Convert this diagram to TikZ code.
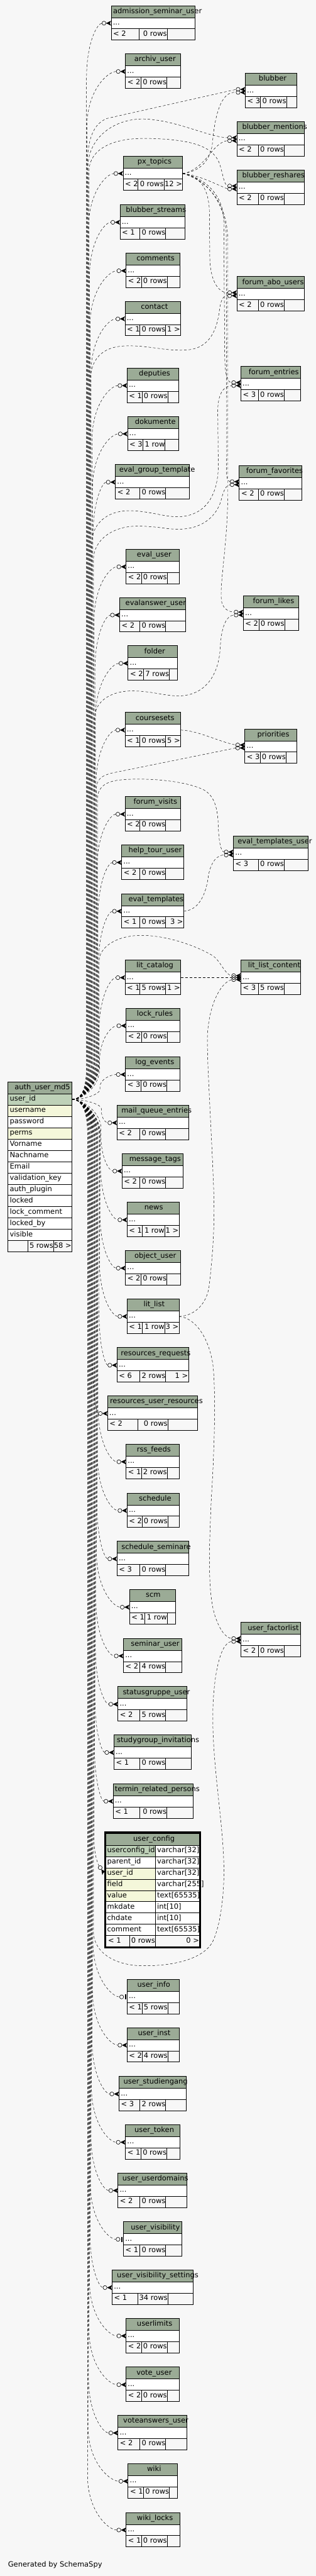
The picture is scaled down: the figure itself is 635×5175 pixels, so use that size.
\documentclass[tikz,border=0pt]{standalone}
\usepackage{fontspec}
\setmainfont{DejaVu Sans}
\usetikzlibrary{calc}
\definecolor{bgc}{HTML}{F7F7F7}
\definecolor{hdr}{HTML}{9BAB96}
\definecolor{pkc}{HTML}{BED1B8}
\definecolor{idx}{HTML}{F4F7DA}
\tikzset{
  txt/.style={inner sep=0pt,outer sep=0pt,text=black},
  rel/.style={draw=black,line width=0.6pt,dash pattern=on 5pt off 4pt},
  tl/.style={draw=black,line width=1pt},
  mkc/.style={draw=black,line width=0.8pt},
}
% table: #1 id, #2 xl, #3 xr, #4 ytop, #5 label x, #6 c1, #7 c2, #8 parents, #9 rows
\newcommand\tb[9]{%
  \fill[hdr] (#2,#4) rectangle (#3,{#4+24});
  \fill[white] (#2,{#4+24}) rectangle (#3,{#4+46.6});
  \fill[bgc] (#2,{#4+46.6}) rectangle (#3,{#4+69.2});
  \node[tl,inner sep=0pt,outer sep=0pt,anchor=north west,minimum width={(#3-#2)*1pt},minimum height=69.2pt] (#1) at (#2,#4) {};
  \draw[tl] (#2,{#4+24}) -- (#3,{#4+24}) (#2,{#4+46.6}) -- (#3,{#4+46.6})
     (#6,{#4+46.6}) -- (#6,{#4+69.2}) (#7,{#4+46.6}) -- (#7,{#4+69.2});
  \node[txt,anchor=base west] (#1-h) at (#5,{#4+15.5}) {\detokenize{#1}};
  \node[txt,anchor=base west] (#1-r) at ({#2+3.5},{#4+38.5}) {...};
  \node[txt,anchor=base west] (#1-f) at ({#2+4},{#4+61}) {< #8};
  \node[txt,anchor=base east] (#1-n) at ({#7-0.5},{#4+61}) {#9};
  \coordinate (#1-w) at (#2,{#4+35.3});
  \coordinate (#1-e) at (#3,{#4+35.3});
}
\newcommand\cnt[2]{\node[txt,anchor=base east] (#1-c) at ($(#1.south east)+(-1,-8.2)$) {#2 >};}
\newcommand\mk[2]{\begin{scope}[shift={($(#1-w)+(0,#2)$)}]
  \draw[mkc] (-14.5,0) circle[radius=4];
  \fill (-10.5,0) -- (0,-5) -- (-2.5,0) -- (0,5) -- cycle;
\end{scope}}
\newcommand\mko[1]{\begin{scope}[shift={(#1-w)}]
  \draw[mkc] (-11,0) circle[radius=4];
  \fill (-4.5,-5) rectangle (-2,5);
\end{scope}}
% up edge from auth: #1 end offset, #2 table, #3 bundle x
\newcommand\ue[3][-18.5]{%
 \draw[rel] let \p1=($(#2-w)+(#1,0)$), \p2=(au),
   \n1={min(110,0.5*(\y1-(\y2)))}, \n2={min(70,0.4*(\y1-(\y2)))} in
  (au) .. controls ($(au)+(25,0)$) and (#3pt,\y2+0.5*\n2) .. (#3pt,\y2+\n2)
  -- (#3pt,\y1-\n1) .. controls (#3pt,\y1-0.35*\n1) and ({\x1-0.3*(\x1-#3pt)},\y1) .. (\x1,\y1);}
\newcommand\de[3][-18.5]{%
 \draw[rel] let \p1=($(#2-w)+(#1,0)$), \p2=(au),
   \n1={min(110,0.5*(\y2-(\y1)))}, \n2={min(70,0.4*(\y2-(\y1)))} in
  (au) .. controls ($(au)+(25,0)$) and (#3pt,\y2-0.5*\n2) .. (#3pt,\y2-\n2)
  -- (#3pt,\y1+\n1) .. controls (#3pt,\y1+0.35*\n1) and ({\x1-0.3*(\x1-#3pt)},\y1) .. (\x1,\y1);}
\begin{document}
\begin{tikzpicture}[x=1pt,y=-1pt,font=\fontsize{14.5}{17}\selectfont]
\useasboundingbox (0,0) rectangle (635,5175);
\fill[bgc] (0,0) rectangle (635,5175);

% ---------- auth_user_md5 ----------
\fill[hdr] (16.2,2173.3) rectangle (144.6,2197.3);
\foreach \nm/\fc [count=\i from 0] in {user\_id/pkc,username/idx,password/white,perms/idx,Vorname/white,Nachname/white,Email/white,validation\_key/white,auth\_plugin/white,locked/white,lock\_comment/white,locked\_by/white,visible/white}{
  \fill[\fc] (16.2,{2197.3+22.7*\i}) rectangle (144.6,{2197.3+22.7*(\i+1)});
  \draw[tl] (16.2,{2197.3+22.7*\i}) -- (144.6,{2197.3+22.7*\i});
  \node[txt,anchor=base west] (au-r\i) at (19.7,{2197.3+22.7*\i+14.5}) {\nm};
}
\fill[bgc] (16.2,2492.4) rectangle (144.6,2515.3);
\draw[tl] (16.2,2492.4) -- (144.6,2492.4) (55.5,2492.4) -- (55.5,2515.3) (107.7,2492.4) -- (107.7,2515.3);
\node[tl,inner sep=0pt,outer sep=0pt,anchor=north west,minimum width=128.4pt,minimum height=342pt] (auth_user_md5) at (16.2,2173.3) {};
\node[txt,anchor=base west] (auth-h) at (29.6,2188.8) {auth\_user\_md5};
\node[txt,anchor=base east] (auth-n) at (107.2,2507.3) {5 rows};
\node[txt,anchor=base east] (auth-c) at (143.6,2507.3) {58 >};
\coordinate (au) at (144.6,2208.65);

% ---------- user_config ----------
\fill[hdr] (212.6,3683.3) rectangle (401.4,3707.3);
\foreach \nm/\ty/\fc [count=\i from 0] in {userconfig\_id/varchar[32]/pkc,parent\_id/varchar[32]/white,user\_id/varchar[32]/idx,field/varchar[255]/idx,value/text[65535]/idx,mkdate/int[10]/white,chdate/int[10]/white,comment/text[65535]/white}{
  \fill[white] (212.6,{3707.3+22.6*\i}) rectangle (401.4,{3707.3+22.6*(\i+1)});
  \fill[\fc] (212.6,{3707.3+22.6*\i}) rectangle (312.3,{3707.3+22.6*(\i+1)});
  \draw[tl] (212.6,{3707.3+22.6*\i}) -- (401.4,{3707.3+22.6*\i});
  \node[txt,anchor=base west] (uc-n\i) at (215.6,{3707.3+22.6*\i+14.5}) {\nm};
  \node[txt,anchor=base west] (uc-t\i) at (316,{3707.3+22.6*\i+14.5}) {\ty};
}
\fill[bgc] (212.6,3888.1) rectangle (401.4,3911);
\draw[tl] (212.6,3888.1) -- (401.4,3888.1) (312.3,3707.3) -- (312.3,3911) (260.4,3888.1) -- (260.4,3911);
\node[tl,inner sep=0pt,outer sep=0pt,anchor=north west,minimum width=188.8pt,minimum height=227.7pt] (user_config) at (212.6,3683.3) {};
\draw[line width=3pt] (211.3,3680.8) rectangle (402.7,3912.3);
\node[txt,anchor=base west] (uc-h) at (268.1,3698.8) {user\_config};
\node[txt,anchor=base west] (uc-f) at (217.5,3902.8) {< 1};
\node[txt,anchor=base east] (uc-r) at (311.8,3902.8) {0 rows};
\node[txt,anchor=base east] (uc-c) at (400.4,3902.8) {0 >};
\coordinate (user_config-w) at (209.8,3763.8);

% ---------- left column ----------
\tb{admission_seminar_user}{223.6}{392}{11.3}{227.6}{280.3}{336.2}{2}{0 rows}
\tb{archiv_user}{252.3}{363.3}{108.3}{270.2}{283.5}{335.4}{2}{0 rows}
\tb{px_topics}{247.5}{367.4}{313.3}{276.6}{277.4}{329.7}{2}{0 rows}\cnt{px_topics}{12}
\tb{blubber_streams}{241.4}{372.2}{411.3}{253.1}{281.5}{333.3}{1}{0 rows}
\tb{comments}{253.5}{361.3}{508.7}{274.6}{284.7}{336.2}{2}{0 rows}
\tb{contact}{251.5}{363.3}{605.3}{283.5}{281.5}{333.3}{1}{0 rows}\cnt{contact}{1}
\tb{deputies}{255.6}{359.3}{739.3}{279.5}{285.5}{337.4}{1}{0 rows}
\tb{dokumente}{256.4}{359.3}{836.3}{271.4}{287.6}{332.1}{3}{1 row}
\tb{eval_group_template}{232.1}{381.1}{933.3}{239.8}{281.5}{333.3}{2}{0 rows}
\tb{eval_user}{253.5}{360.1}{1103.3}{275.4}{284.7}{336.2}{2}{0 rows}
\tb{evalanswer_user}{240.6}{373.4}{1200.3}{252.3}{281.5}{333.3}{2}{0 rows}
\tb{folder}{257.6}{357.2}{1297.3}{290}{288.4}{340.6}{2}{7 rows}
\tb{coursesets}{251.5}{363.3}{1431.3}{272.6}{281.5}{333.3}{1}{0 rows}\cnt{coursesets}{5}
\tb{forum_visits}{251.5}{363.3}{1600.3}{268.5}{281.5}{333.3}{2}{0 rows}
\tb{help_tour_user}{244.6}{369.4}{1697.3}{258.4}{281.5}{333.3}{2}{0 rows}
\tb{eval_templates}{244.6}{369.4}{1795.3}{258.4}{281.5}{333.3}{1}{0 rows}\cnt{eval_templates}{3}
\tb{lit_catalog}{251.5}{363.3}{1928.7}{274.2}{281.5}{333.3}{1}{5 rows}\cnt{lit_catalog}{1}
\tb{lock_rules}{253.5}{361.3}{2025.3}{275.4}{284.7}{336.2}{2}{0 rows}
\tb{log_events}{252.3}{361.3}{2123.3}{272.2}{283.5}{335.4}{3}{0 rows}
\tb{mail_queue_entries}{235.3}{379.1}{2220.3}{244.2}{281.5}{333.3}{2}{0 rows}
\tb{message_tags}{245.4}{368.2}{2317.3}{260}{281.5}{333.3}{2}{0 rows}
\tb{news}{255.6}{360.1}{2415.3}{290.4}{285.5}{331.3}{1}{1 row}\cnt{news}{1}
\tb{object_user}{252.3}{363.3}{2512.3}{270.6}{283.5}{335.4}{2}{0 rows}
\tb{lit_list}{255.6}{360.1}{2609.3}{288.8}{285.5}{331.3}{1}{1 row}\cnt{lit_list}{3}
\tb{resources_requests}{235.3}{379.1}{2707.3}{243}{281.5}{333.3}{6}{2 rows}\cnt{resources_requests}{1}
\tb{resources_user_resources}{216.3}{397.3}{2804.3}{221.1}{277.4}{337.4}{2}{0 rows}
\tb{rss_feeds}{253.5}{360.1}{2901.3}{275.4}{284.7}{336.2}{1}{2 rows}
\tb{schedule}{255.6}{360.1}{2999.3}{279.5}{285.5}{337.4}{2}{0 rows}
\tb{schedule_seminare}{235.3}{379.1}{3096.3}{244.2}{281.5}{333.3}{3}{0 rows}
\tb{scm}{260.4}{353.2}{3193.3}{293.2}{291.6}{336.2}{1}{1 row}
\tb{seminar_user}{248.3}{365.3}{3291.3}{263.3}{281.5}{333.3}{2}{4 rows}
\tb{statusgruppe_user}{237.3}{376.3}{3388.3}{247}{281.5}{333.3}{2}{5 rows}
\tb{studygroup_invitations}{229.2}{384.4}{3485.3}{235.3}{281.5}{333.3}{1}{0 rows}
\tb{termin_related_persons}{227.6}{388.4}{3583.3}{230.9}{281.5}{335.4}{1}{0 rows}
\tb{user_info}{255.6}{360.1}{3976.3}{276.2}{285.5}{337.4}{1}{5 rows}
\tb{user_inst}{255.6}{360.1}{4073.3}{277.4}{285.5}{337.4}{2}{4 rows}
\tb{user_studiengang}{239.4}{375}{4171.3}{248.3}{281.5}{333.3}{3}{2 rows}
\tb{user_token}{252.3}{361.3}{4268.3}{270.6}{283.5}{335.4}{1}{0 rows}
\tb{user_userdomains}{237.3}{376.3}{4365.3}{246.3}{281.5}{333.3}{2}{0 rows}
\tb{user_visibility}{248.3}{365.3}{4463.3}{263.3}{281.5}{333.3}{1}{0 rows}
\tb{user_visibility_settings}{225.6}{388.4}{4560.3}{235.3}{277.4}{337.4}{1}{34 rows}
\tb{userlimits}{253.5}{360.1}{4657.3}{275.4}{284.7}{336.2}{2}{0 rows}
\tb{vote_user}{253.5}{360.1}{4755.3}{274.6}{284.7}{336.2}{2}{0 rows}
\tb{voteanswers_user}{237.3}{376.3}{4852.3}{247.9}{281.5}{333.3}{2}{0 rows}
\tb{wiki}{257.6}{357.2}{4949.3}{295.7}{288.4}{340.6}{1}{0 rows}
\tb{wiki_locks}{253.5}{361.3}{5047.3}{275.4}{284.7}{336.2}{1}{0 rows}

% ---------- right column ----------
\tb{blubber}{493.3}{596.2}{147.3}{520.5}{524.1}{576}{3}{0 rows}
\tb{blubber_mentions}{476.3}{612.4}{244.3}{487.2}{519.6}{571.5}{2}{0 rows}
\tb{blubber_reshares}{476.3}{612.4}{341.3}{487.2}{519.6}{571.5}{2}{0 rows}
\tb{forum_abo_users}{476.3}{612.4}{555.7}{487.2}{519.6}{571.5}{2}{0 rows}
\tb{forum_entries}{484.4}{604.3}{736.3}{500.2}{519.6}{571.5}{3}{0 rows}
\tb{forum_favorites}{481.2}{607.5}{935.3}{495}{519.6}{571.5}{2}{0 rows}
\tb{forum_likes}{489.3}{600.2}{1197.3}{508.7}{520.9}{572.3}{2}{0 rows}
\tb{priorities}{492.5}{596.2}{1464.3}{517.6}{523.7}{575.1}{3}{0 rows}
\tb{eval_templates_user}{469.4}{619.3}{1679.3}{477.9}{519.6}{571.5}{3}{0 rows}
\tb{lit_list_content}{484.4}{604.3}{1928.7}{499}{519.6}{571.5}{3}{5 rows}
\tb{user_factorlist}{484.4}{604.3}{3259.3}{498.2}{519.6}{571.5}{2}{0 rows}

% ---------- edges from auth_user_md5 to the left column ----------
\ue{admission_seminar_user}{174}
\ue{archiv_user}{175}
\ue{px_topics}{178}
\ue{blubber_streams}{180}
\ue{comments}{181}
\ue{contact}{183}
\ue{deputies}{185}
\ue{dokumente}{186}
\ue{eval_group_template}{187}
\ue{eval_user}{189}
\ue{evalanswer_user}{191}
\ue{folder}{192}
\ue{coursesets}{193}
\ue{forum_visits}{195}
\ue{help_tour_user}{197}
\ue{eval_templates}{198}
\ue{lit_catalog}{199}
\ue{lock_rules}{200}
\ue{log_events}{201}
\de{wiki_locks}{176}
\de{wiki}{177}
\de{voteanswers_user}{178}
\de{vote_user}{179}
\de{userlimits}{180}
\de{user_visibility_settings}{181}
\de[-15]{user_visibility}{182}
\de{user_userdomains}{183}
\de{user_token}{184}
\de{user_studiengang}{185}
\de{user_inst}{186}
\de[-15]{user_info}{187}
\de{termin_related_persons}{190}
\de{studygroup_invitations}{191}
\de{statusgruppe_user}{192}
\de{seminar_user}{193}
\de{scm}{194}
\de{schedule_seminare}{195}
\de{schedule}{196}
\de{rss_feeds}{197}
\de{resources_user_resources}{186}
\de{resources_requests}{199}
\de{lit_list}{200}
\de{object_user}{201}
\de{news}{202}
\de{message_tags}{203}
\de{mail_queue_entries}{204}
\draw[rel] (au) .. controls +(25,0) and (189,2244) .. (189,2279) -- (189,3690) .. controls (189,3720) and (194,3738) .. ($(user_config-w)+(-10.6,-15.2)$);

% ---------- edges from auth_user_md5 to the right column ----------
\draw[rel] (au) .. controls +(25,0) and (176,2174) .. (176,2139) -- (176,330) .. controls (176,275) and (190,248) .. (215,238) -- ($(blubber-w)+(-18.5,-3)$);
\draw[rel] (au) .. controls +(25,0) and (177,2174) .. (177,2139) -- (177,335) .. controls (177,280) and (225,240) .. (285,239) .. controls (350,239) and (420,276) .. ($(blubber_mentions-w)+(-18.5,-3)$);
\draw[rel] (au) .. controls +(25,0) and (179,2174) .. (179,2139) -- (179,345) .. controls (179,300) and (225,278) .. (290,278) .. controls (380,279) and (425,292) .. (440,325) .. controls (448,345) and (450,372) .. ($(blubber_reshares-w)+(-18.5,-3)$);
\draw[rel] (au) .. controls +(25,0) and (182,2174) .. (182,2139) -- (182,765) .. controls (182,722) and (205,697) .. (250,695) .. controls (300,693) and (330,706) .. (376,703) .. controls (420,700) and (436,665) .. (441,625) .. controls (444,603) and (448,594) .. ($(forum_abo_users-w)+(-18.5,3)$);
\draw[rel] (au) .. controls +(25,0) and (184,2174) .. (184,2139) -- (184,1095) .. controls (184,1052) and (215,1026) .. (260,1026) .. controls (300,1026) and (330,1039) .. (360,1038) .. controls (410,1036) and (437,1000) .. (439,940) -- (438,830) .. controls (437,795) and (448,775) .. ($(forum_entries-w)+(-18.5,3)$);
\draw[rel] (au) .. controls +(25,0) and (188,2174) .. (188,2139) -- (188,1125) .. controls (188,1082) and (230,1057) .. (275,1057) .. controls (320,1057) and (335,1064) .. (364,1063) .. controls (410,1061) and (438,1035) .. (446,1000) .. controls (450,985) and (455,974) .. ($(forum_favorites-w)+(-18.5,3)$);
\draw[rel] (au) .. controls +(25,0) and (190,2174) .. (190,2139) -- (190,1445) .. controls (190,1405) and (228,1388) .. (265,1388) .. controls (305,1388) and (330,1398) .. (360,1398) .. controls (410,1397) and (440,1360) .. (443,1300) .. controls (445,1260) and (455,1236) .. ($(forum_likes-w)+(-18.5,3)$);
\draw[rel] (au) .. controls +(25,0) and (194,2174) .. (194,2139) -- (194,1585) .. controls (194,1565) and (205,1558) .. (225,1553) -- ($(priorities-w)+(-18.5,3)$);
\draw[rel] (au) .. controls +(25,0) and (196,2174) .. (196,2139) -- (196,1605) .. controls (196,1582) and (212,1570) .. (240,1567) .. controls (300,1561) and (380,1570) .. (412,1588) .. controls (434,1602) and (438,1630) .. (439,1660) .. controls (440,1690) and (444,1711) .. ($(eval_templates_user-w)+(-18.5,-3)$);
\draw[rel] (au) .. controls +(25,0) and (199.5,2174) .. (199.5,2139) -- (199.5,1930) .. controls (199.5,1905) and (230,1880) .. (283,1879) .. controls (340,1879) and (400,1903) .. (428,1920) .. controls (445,1932) and (452,1958) .. ($(lit_list_content-w)+(-18.5,-4)$);
\draw[rel] (au) .. controls +(25,0) and (188,2244) .. (188,2279) -- (188,3880) .. controls (188,3922) and (230,3948) .. (285,3949) .. controls (350,3950) and (410,3935) .. (428,3900) .. controls (446,3862) and (452,3790) .. (450,3740) .. controls (447,3650) and (428,3550) .. (428,3450) .. controls (428,3380) and (440,3300) .. ($(user_factorlist-w)+(-18.5,3)$);

% ---------- other edges ----------
\draw[rel] (px_topics-e) .. controls (400,345) and (422,325) .. (427,290) .. controls (432,230) and (445,182) .. ($(blubber-w)+(-18.5,3)$);
\draw[rel] (px_topics-e) .. controls (395,345) and (415,318) .. (430,300) .. controls (440,289) and (450,283) .. ($(blubber_mentions-w)+(-18.5,3)$);
\draw[rel] (px_topics-e) .. controls (400,352) and (430,368) .. ($(blubber_reshares-w)+(-18.5,3)$);
\draw[rel] (px_topics-e) .. controls (395,352) and (418,370) .. (421,420) -- (422,520) .. controls (423,562) and (438,588) .. ($(forum_abo_users-w)+(-18.5,-3)$);
\draw[rel] (px_topics-e) .. controls (405,355) and (447,385) .. (450,440) -- (452,720) .. controls (453,750) and (456,768) .. ($(forum_entries-w)+(-18.5,-3)$);
\draw[rel] (px_topics-e) .. controls (410,358) and (452,400) .. (455,470) -- (456,900) .. controls (456,940) and (452,965) .. ($(forum_favorites-w)+(-18.5,-3)$);
\draw[rel] (px_topics-e) .. controls (415,362) and (457,405) .. (458,480) -- (458,1000) .. controls (457,1100) and (440,1180) .. (446,1210) .. controls (450,1224) and (460,1229) .. ($(forum_likes-w)+(-18.5,-3)$);
\draw[rel] (coursesets-e) .. controls (400,1468) and (440,1490) .. ($(priorities-w)+(-18.5,-3)$);
\draw[rel] (eval_templates-e) .. controls (398,1829) and (414,1800) .. (419,1760) .. controls (424,1730) and (438,1717) .. ($(eval_templates_user-w)+(-18.5,3)$);
\draw[rel] (lit_catalog-e) -- ($(lit_list_content-w)+(-18.5,0)$);
\draw[rel] (lit_list-e) .. controls (395,2643) and (418,2615) .. (421,2580) .. controls (428,2520) and (432,2460) .. (430,2400) .. controls (427,2300) and (417,2150) .. (417,2090) .. controls (417,2030) and (440,1975) .. ($(lit_list_content-w)+(-18.5,4)$);
\draw[rel] (lit_list-e) .. controls (395,2648) and (420,2690) .. (428,2740) .. controls (434,2790) and (432,2900) .. (425,3010) .. controls (420,3120) and (418,3200) .. (432,3245) .. controls (440,3270) and (452,3290) .. ($(user_factorlist-w)+(-18.5,-3)$);

% ---------- markers ----------
\foreach \t in {admission_seminar_user,archiv_user,px_topics,blubber_streams,comments,contact,deputies,dokumente,eval_group_template,eval_user,evalanswer_user,folder,coursesets,forum_visits,help_tour_user,eval_templates,lit_catalog,lock_rules,log_events,mail_queue_entries,message_tags,news,object_user,lit_list,resources_requests,resources_user_resources,rss_feeds,schedule,schedule_seminare,scm,seminar_user,statusgruppe_user,studygroup_invitations,termin_related_persons,user_inst,user_studiengang,user_token,user_userdomains,user_visibility_settings,userlimits,vote_user,voteanswers_user,wiki,wiki_locks}{\mk{\t}{0}}
\mko{user_info}
\mko{user_visibility}
\foreach \t in {blubber,blubber_mentions,blubber_reshares,forum_abo_users,forum_entries,forum_favorites,forum_likes,priorities,eval_templates_user,user_factorlist}{\mk{\t}{-3}\mk{\t}{3}}
\mk{lit_list_content}{-4}\mk{lit_list_content}{0}\mk{lit_list_content}{4}
\begin{scope}[shift={(user_config-w)},rotate=-55]
  \draw[mkc] (-14.5,0) circle[radius=4];
  \fill (-10.5,0) -- (0,-5) -- (-2.5,0) -- (0,5) -- cycle;
\end{scope}

\node[txt,anchor=base west] (gen) at (16.2,5157) {Generated by SchemaSpy};
\end{tikzpicture}
\end{document}
